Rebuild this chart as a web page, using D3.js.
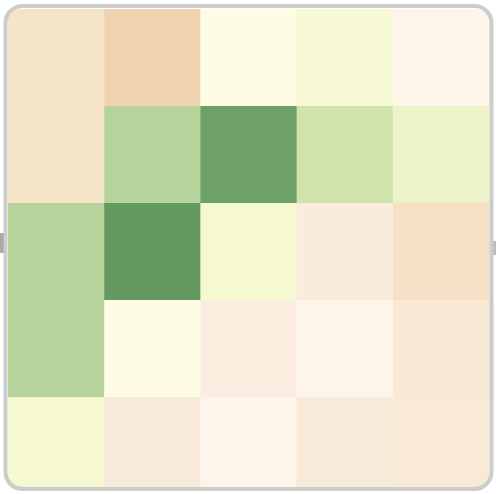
<!DOCTYPE html>
<html><head><meta charset="utf-8">
<script src="https://cdn.jsdelivr.net/npm/d3@7"></script>
<style>html,body{margin:0;padding:0;background:#fff;overflow:hidden}</style>
</head><body><div id="chart"></div>
<script>
const rows = ["R1","R2","R3","R4","R5"];
const cols = ["C1","C2","C3","C4","C5"];
const row1 = [-0.5, -0.95, 0.0, 0.18, -0.1];
const row2 = [-0.5, 0.6, 0.95, 0.4, 0.25];
const row3 = [0.6, 1.0, 0.2, -0.25, -0.55];
const row4 = [0.6, 0.02, -0.2, -0.1, -0.35];
const row5 = [0.2, -0.27, -0.1, -0.28, -0.3];
const matrix = [row1,row2,row3,row4,row5];
const colorDomain = [-1, -0.5, -0.2, -0.1, -0.02, 0, 0.2, 0.4, 0.6, 1];
const colorRange = ["#f0d2ac","#f6e4c9","#faede0","#fdf4ea","#fefae6","#fffce4","#f6f8d2","#d0e3ad","#b5d39a","#649a60"];

const W = 496, H = 494;
const svg = d3.select("#chart").append("svg").attr("width", W).attr("height", H);
const x = d3.scaleBand().domain(cols).range([8, 489]);
const y = d3.scaleBand().domain(rows).range([9, 494]);
const color = d3.scaleLinear().domain(colorDomain).range(colorRange).interpolate(d3.interpolateRgb);

const defs = svg.append("defs");
defs.append("clipPath").attr("id","clip").append("rect")
  .attr("x",5.5).attr("y",6).attr("width",486).attr("height",483).attr("rx",17).attr("ry",17);

const cells = [];
matrix.forEach((r,i)=>r.forEach((v,j)=>cells.push({row:rows[i],col:cols[j],v})));

const g = svg.append("g").attr("clip-path","url(#clip)");
g.selectAll("rect.cell").data(cells).join("rect")
  .attr("class","cell")
  .attr("x",d=>x(d.col)).attr("y",d=>y(d.row))
  .attr("width",x.bandwidth()+0.5).attr("height",y.bandwidth()+0.5)
  .attr("fill",d=>color(d.v));

// side handles
svg.append("rect").attr("x",0).attr("y",233).attr("width",4).attr("height",20).attr("fill","#aaa");
svg.append("rect").attr("x",492).attr("y",241).attr("width",4).attr("height",14).attr("fill","#bbb");

svg.append("rect")
  .attr("x",5.5).attr("y",6).attr("width",486).attr("height",483).attr("rx",17).attr("ry",17)
  .attr("fill","none").attr("stroke","#cccccc").attr("stroke-width",4);
</script></body></html>
